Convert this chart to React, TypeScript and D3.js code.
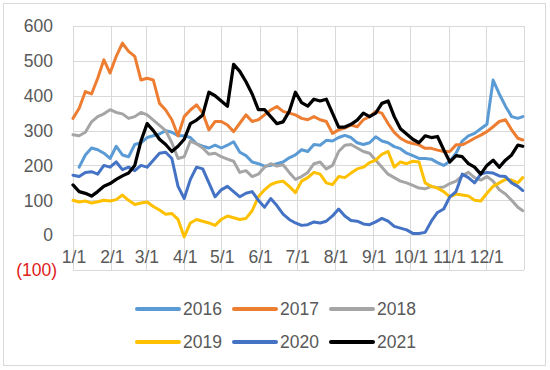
import React from "react";
import * as d3 from "d3";

// sampled day-of-year (0 = Jan 1)
const sampleDays = [
  0, 5, 10, 15, 20, 25, 30, 35, 40, 45, 50, 55, 60, 65, 70, 75, 80, 85, 90, 95,
  100, 105, 110, 115, 120, 125, 130, 135, 140, 145, 150, 155, 160, 165, 170, 175, 180, 185, 190, 195,
  200, 205, 210, 215, 220, 225, 230, 235, 240, 245, 250, 255, 260, 265, 270, 275, 280, 285, 290, 295,
  300, 305, 310, 315, 320, 325, 330, 335, 340, 345, 350, 355, 360, 364,
];

const years = ["2016", "2017", "2018", "2019", "2020", "2021"];
const colors = ["#5B9BD5", "#ED7D31", "#A5A5A5", "#FFC000", "#4472C4", "#000000"];

const y2016 = [
  null, 195, 230, 250, 245, 235, 220, 255, 230, 225, 260, 265, 280, 285, 290, 300, 295, 285, 285, 280,
  262, 255, 250, 258, 250, 258, 268, 238, 228, 210, 205, 198, 200, 205, 210, 222, 230, 245, 240, 260,
  258, 272, 270, 280, 286, 280, 265, 260, 265, 282, 270, 265, 254, 248, 235, 228, 220, 220, 218, 208,
  200, 212, 235, 270, 285, 292, 305, 318, 445, 405, 370, 340, 335, 340,
];
const y2017 = [
  335, 364, 412, 405, 450, 503, 465, 513, 551, 527, 513, 445, 450, 445, 378, 359, 331, 285, 340, 359,
  374, 350, 302, 326, 326, 316, 297, 321, 345, 326, 331, 345, 359, 369, 355, 350, 345, 335, 331, 340,
  331, 326, 292, 302, 307, 316, 311, 331, 340, 355, 350, 320, 295, 278, 268, 263, 259, 249, 249, 244,
  240, 240, 259, 259, 268, 278, 287, 297, 311, 326, 331, 302, 278, 273,
];
const y2018 = [
  288, 285, 295, 325, 340, 348, 360, 352, 348, 335, 340, 352, 345, 330, 315, 300, 265, 220, 225, 270,
  262, 250, 232, 235, 225, 218, 212, 180, 185, 168, 175, 195, 205, 198, 202, 180, 160, 168, 180, 205,
  210, 190, 200, 240, 258, 260, 250, 240, 235, 215, 195, 175, 165, 155, 150, 143, 135, 133, 140, 136,
  138, 148, 155, 170, 180, 165, 158, 168, 155, 130, 118, 100, 80, 70,
];
const y2019 = [
  100, 95, 98, 92, 96, 100, 98, 102, 115, 100, 88, 92, 95, 82, 72, 60, 62, 45, -5, 35,
  45, 40, 35, 28, 45, 55, 50, 45, 48, 70, 110, 130, 145, 152, 155, 140, 122, 155, 165, 180,
  175, 150, 145, 168, 165, 178, 190, 195, 208, 215, 232, 240, 195, 210, 205, 212, 210, 150, 140, 135,
  125, 110, 118, 115, 112, 100, 98, 120, 140, 150, 160, 158, 150, 165,
];
const y2020 = [
  172, 168, 180, 182, 175, 200, 195, 210, 188, 195, 185, 200, 195, 215, 235, 238, 220, 140, 105, 160,
  195, 190, 150, 110, 130, 140, 125, 110, 120, 125, 100, 80, 105, 85, 60, 45, 35, 28, 30, 38,
  35, 40, 55, 75, 55, 42, 40, 32, 30, 38, 48, 40, 25, 20, 15, 5, 5, 8, 40, 65,
  75, 110, 125, 175, 165, 150, 175, 180, 178, 170, 168, 150, 140, 128,
];
const y2021 = [
  144, 125, 120, 112, 125, 140, 148, 160, 170, 178, 200, 270, 320, 300, 275, 260, 240, 255, 275, 320,
  330, 345, 410, 400, 385, 370, 490, 470, 440, 405, 360, 360, 340, 320, 325, 355, 410, 380, 370, 390,
  385, 390, 350, 310, 310, 318, 330, 350, 340, 350, 378, 385, 340, 305, 290, 275, 265, 285, 280, 283,
  245, 210, 228, 225, 205, 195, 175, 200, 215, 195, 215, 230, 258, 255,
];
const seriesValues = [y2016, y2017, y2018, y2019, y2020, y2021];

const yTicks = [-100, 0, 100, 200, 300, 400, 500, 600];
const monthLabels = ["1/1", "2/1", "3/1", "4/1", "5/1", "6/1", "7/1", "8/1", "9/1", "10/1", "11/1", "12/1"];

const W = 550;
const H = 370;
const plot = { left: 73, right: 524, top: 26, bottom: 270 };
const font = "'Liberation Sans', Arial, sans-serif";
const textColor = "#595959";
const gridColor = "#D9D9D9";

export default function App() {
  const x = d3.scaleTime()
    .domain([new Date(2021, 0, 1), new Date(2022, 0, 1)])
    .range([plot.left, plot.right]);
  const dayX = (d: number) => x(d3.timeDay.offset(new Date(2021, 0, 1), d));
  const y = d3.scaleLinear().domain([-100, 600]).range([plot.bottom, plot.top]);

  const monthStarts = d3.timeMonth.range(new Date(2021, 0, 1), new Date(2022, 0, 2));

  const line = d3.line<number | null>()
    .defined((v) => v !== null)
    .x((_, i) => dayX(sampleDays[i]))
    .y((v) => y(v as number));

  const legendRows = [0, 1];
  const legendCols = [0, 1, 2];

  return (
    <svg width={W} height={H} style={{ position: "absolute", left: 0, top: 0 }} fontFamily={font}>
      <rect x={0} y={0} width={W} height={H} fill="#fff" />
      <rect x={3.5} y={3.5} width={542} height={362} fill="none" stroke={gridColor} />

      {/* horizontal grid */}
      {yTicks.map((t) => (
        <line key={"h" + t} x1={plot.left} x2={plot.right} y1={Math.round(y(t)) + 0.5} y2={Math.round(y(t)) + 0.5}
          stroke={gridColor} strokeWidth={1} />
      ))}
      {/* vertical grid */}
      {monthStarts.map((m, i) => (
        <line key={"v" + i} x1={Math.round(x(m)) + 0.5} x2={Math.round(x(m)) + 0.5} y1={y(600)} y2={y(-100)}
          stroke={gridColor} strokeWidth={1} />
      ))}

      {/* y labels */}
      {yTicks.map((t) => (
        <text key={"yl" + t} x={t < 0 ? 57 : 53} y={y(t)} dy="0.36em" textAnchor="end" fontSize={17.5}
          fill={t < 0 ? "#E02020" : textColor}>
          {t < 0 ? `(${Math.abs(t)})` : t}
        </text>
      ))}

      {/* x labels */}
      {monthLabels.map((lab, i) => (
        <text key={"xl" + i} x={x(monthStarts[i]) + 1} y={257} dy="0.36em" textAnchor="middle" fontSize={17.5}
          fill={textColor}>
          {lab}
        </text>
      ))}

      {/* series */}
      {seriesValues.map((vals, i) => (
        <path key={years[i]} d={line(vals) || ""} fill="none" stroke={colors[i]}
          strokeWidth={i === 5 ? 3.25 : 3} strokeLinejoin="round" strokeLinecap="round" />
      ))}

      {/* legend */}
      {legendRows.map((r) =>
        legendCols.map((c) => {
          const idx = r * 3 + c;
          const lx = 135 + c * 97;
          const ly = r === 0 ? 309 : 342;
          return (
            <g key={"lg" + idx}>
              <line x1={lx + 2} x2={lx + 44} y1={ly} y2={ly} stroke={colors[idx]} strokeWidth={4} strokeLinecap="round" />
              <text x={lx + 48} y={ly} dy="0.36em" fontSize={17.5} fill={textColor}>{years[idx]}</text>
            </g>
          );
        })
      )}
    </svg>
  );
}
